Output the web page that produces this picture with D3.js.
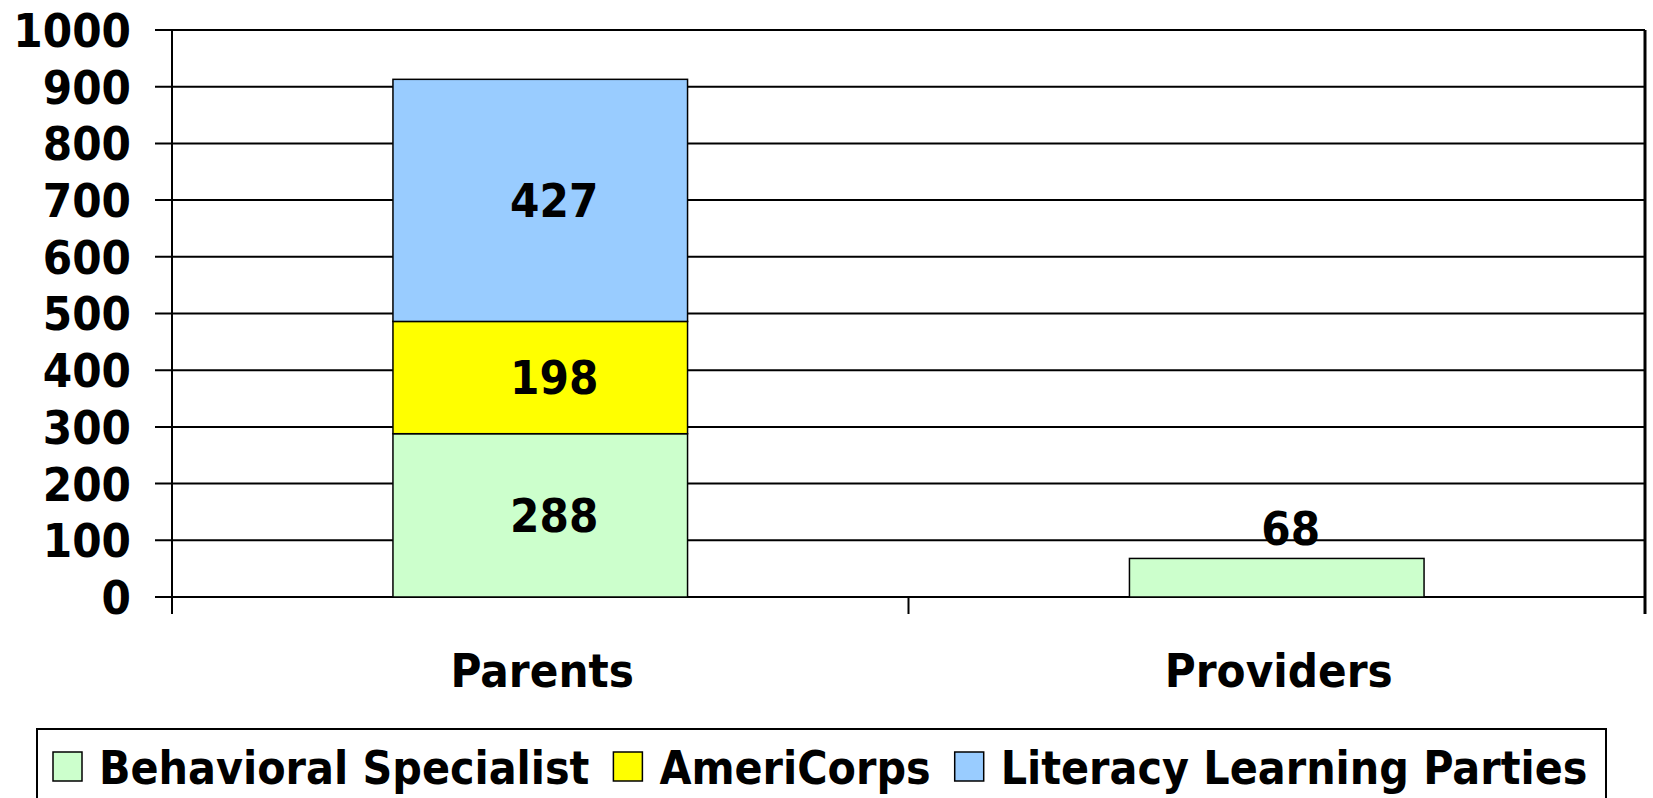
<!DOCTYPE html>
<html>
<head>
<meta charset="utf-8">
<script src="https://cdn.jsdelivr.net/npm/d3@7"></script>
<style>
  body { margin: 0; background: #fff; }
  text { font-family: "DejaVu Sans Condensed", "DejaVu Sans", sans-serif; font-weight: bold; font-stretch: condensed; fill: #000; }
</style>
</head>
<body>
<svg id="grafico"></svg>
<script>
// datos
var categorias = ["Parents", "Providers"];
var series = ["Behavioral Specialist", "AmeriCorps", "Literacy Learning Parties"];
var behavioral = [288, 68];
var americorps = [198, 0];
var literacy = [427, 0];
var ticksY = [0, 100, 200, 300, 400, 500, 600, 700, 800, 900, 1000];

var colores = ["#CCFFCC", "#FFFF00", "#99CCFF"];

var anchura = 1653, altura = 798;
var izq = 172, der = 1645, arriba = 30, abajo = 597;
var tamLetra = "47px";

var svg = d3.select("#grafico")
    .attr("width", anchura)
    .attr("height", altura);

var x = d3.scaleBand().domain(categorias).range([izq, der]).padding(0);
var y = d3.scaleLinear().domain([0, 1000]).range([abajo, arriba]);

// tabla para d3.stack
var tabla = categorias.map(function (c, i) {
    return { cat: c, "Behavioral Specialist": behavioral[i], "AmeriCorps": americorps[i], "Literacy Learning Parties": literacy[i] };
});
var apilado = d3.stack().keys(series)(tabla);

// lineas de cuadricula
svg.append("g")
    .selectAll("line")
    .data(ticksY)
    .join("line")
    .attr("x1", izq - 17)
    .attr("x2", der)
    .attr("y1", function (d) { return y(d); })
    .attr("y2", function (d) { return y(d); })
    .style("stroke", "#000")
    .style("stroke-width", 2);

// eje Y
svg.append("line")
    .attr("x1", izq).attr("x2", izq)
    .attr("y1", arriba).attr("y2", abajo + 17)
    .style("stroke", "#000").style("stroke-width", 2);

// marcas del eje X (limites de categorias)
var limites = categorias.map(function (c) { return x(c) + x.bandwidth(); });
svg.append("g")
    .selectAll("line")
    .data(limites)
    .join("line")
    .attr("x1", function (d) { return d; })
    .attr("x2", function (d) { return d; })
    .attr("y1", function (d, i) { return i === limites.length - 1 ? arriba : abajo; })
    .attr("y2", abajo + 17)
    .style("stroke", "#000")
    .style("stroke-width", function (d, i) { return i === limites.length - 1 ? 3 : 2; });

// etiquetas eje Y
svg.append("g")
    .selectAll("text")
    .data(ticksY)
    .join("text")
    .attr("x", 131)
    .attr("y", function (d) { return y(d); })
    .attr("dy", "0.36em")
    .attr("text-anchor", "end")
    .style("font-size", tamLetra)
    .text(function (d) { return d; });

// barras
var anchoBarra = x.bandwidth() * 0.4;
var grupos = svg.append("g")
    .selectAll("g")
    .data(apilado)
    .join("g")
    .style("fill", function (d, i) { return colores[i]; });

grupos.selectAll("rect")
    .data(function (d) { return d.filter(function (s) { return s[1] - s[0] > 0; }); })
    .join("rect")
    .attr("x", function (d) { return x(d.data.cat) + (x.bandwidth() - anchoBarra) / 2; })
    .attr("y", function (d) { return y(d[1]); })
    .attr("width", anchoBarra)
    .attr("height", function (d) { return y(d[0]) - y(d[1]); })
    .style("stroke", "#000")
    .style("stroke-width", 1.5);

// etiquetas de valores
grupos.selectAll("text")
    .data(function (d) { return d.filter(function (s) { return s[1] - s[0] > 0; }); })
    .join("text")
    .attr("x", function (d) { return x(d.data.cat) + x.bandwidth() / 2 + 14; })
    .attr("y", function (d) {
        var v = d[1] - d[0];
        // valores pequeños se ponen encima de la barra
        if (v < 100) return y(d[1]) - 30;
        return y((d[0] + d[1]) / 2);
    })
    .attr("dy", "0.36em")
    .attr("text-anchor", "middle")
    .style("font-size", tamLetra)
    .style("fill", "#000")
    .text(function (d) { return d[1] - d[0]; });

// etiquetas eje X
svg.append("g")
    .selectAll("text")
    .data(categorias)
    .join("text")
    .attr("x", function (d) { return x(d) + x.bandwidth() / 2 + 2; })
    .attr("y", 670)
    .attr("dy", "0.36em")
    .attr("text-anchor", "middle")
    .style("font-size", tamLetra)
    .text(function (d) { return d; });

// leyenda
var leyenda = svg.append("g");
leyenda.append("rect")
    .attr("x", 37).attr("y", 729)
    .attr("width", 1569).attr("height", 80)
    .style("fill", "#fff").style("stroke", "#000").style("stroke-width", 2);

var posX = 53;
series.forEach(function (s, i) {
    leyenda.append("rect")
        .attr("x", posX).attr("y", 752)
        .attr("width", 29).attr("height", 29)
        .style("fill", colores[i]).style("stroke", "#000").style("stroke-width", 1.5);
    var t = leyenda.append("text")
        .attr("x", posX + 46).attr("y", 767)
        .attr("dy", "0.36em")
        .style("font-size", "46px")
        .text(s);
    posX = posX + 46 + t.node().getComputedTextLength() + 24;
});
</script>
</body>
</html>
